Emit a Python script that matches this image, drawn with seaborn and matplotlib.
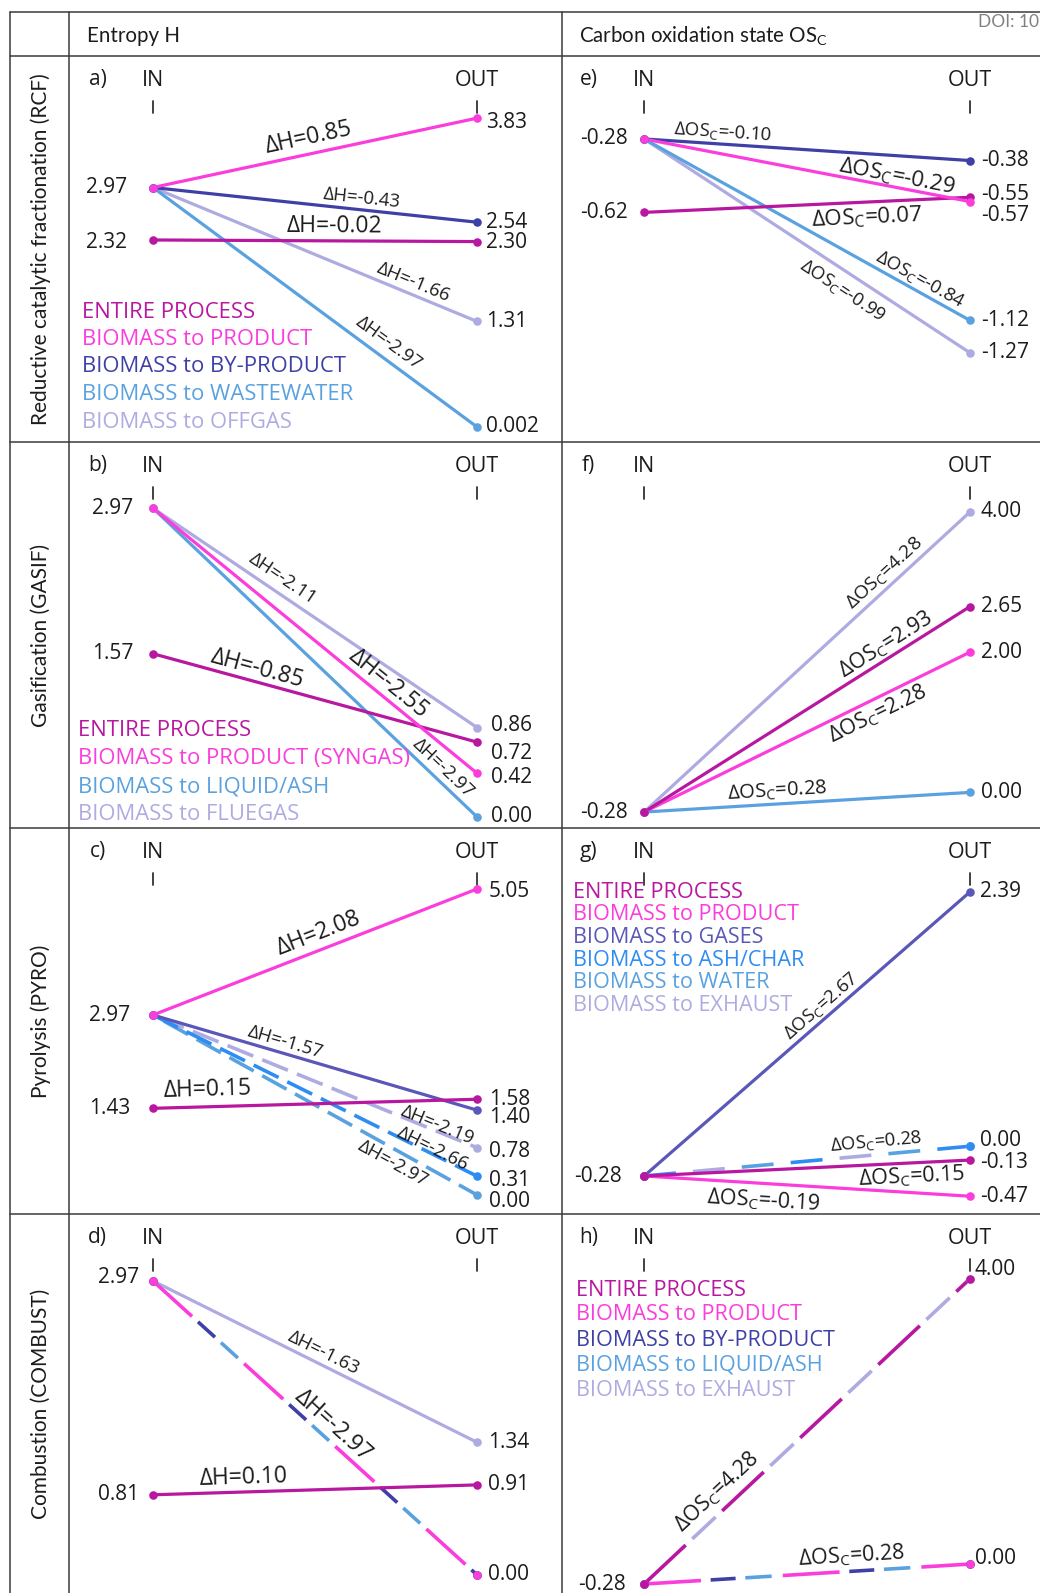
import numpy as np
import pandas as pd
import seaborn as sns
import matplotlib.pyplot as plt
import matplotlib.transforms as mtransforms
from matplotlib.lines import Line2D

sns.set_theme(style="white")
plt.rcParams['font.family'] = ['Open Sans', 'DejaVu Sans']
plt.rcParams['lines.scale_dashes'] = False

W, H, DPI = 1040, 1593, 100
INK = '#1c1c1c'

# ---------------- data ----------------
# a) RCF - entropy H
rcf_names = ['ENTIRE PROCESS', 'BIOMASS to PRODUCT', 'BIOMASS to BY-PRODUCT',
             'BIOMASS to WASTEWATER', 'BIOMASS to OFFGAS']
rcf_h_in = [2.32, 2.97, 2.97, 2.97, 2.97]
rcf_h_out = [2.30, 3.83, 2.54, 0.002, 1.31]
rcf_h_delta = ['-0.02', '0.85', '-0.43', '-2.97', '-1.66']

# e) RCF - carbon oxidation state
rcf_os_in = [-0.62, -0.28, -0.28, -0.28, -0.28]
rcf_os_out = [-0.55, -0.57, -0.38, -1.12, -1.27]
rcf_os_delta = ['0.07', '-0.29', '-0.10', '-0.84', '-0.99']

# b) gasification - entropy H
gasif_names = ['ENTIRE PROCESS', 'BIOMASS to PRODUCT (SYNGAS)',
               'BIOMASS to LIQUID/ASH', 'BIOMASS to FLUEGAS']
gasif_h_in = [1.57, 2.97, 2.97, 2.97]
gasif_h_out = [0.72, 0.42, 0.00, 0.86]
gasif_h_delta = ['-0.85', '-2.55', '-2.97', '-2.11']

# f) gasification - OSc
gasif_os_in = [-0.28, -0.28, -0.28, -0.28]
gasif_os_out = [2.65, 2.00, 0.00, 4.00]
gasif_os_delta = ['2.93', '2.28', '0.28', '4.28']

# c) pyrolysis - entropy H
pyro_names = ['ENTIRE PROCESS', 'BIOMASS to PRODUCT', 'BIOMASS to GASES',
              'BIOMASS to ASH/CHAR', 'BIOMASS to WATER', 'BIOMASS to EXHAUST']
pyro_h_in = [1.43, 2.97, 2.97, 2.97, 2.97, 2.97]
pyro_h_out = [1.58, 5.05, 1.40, 0.31, 0.00, 0.78]
pyro_h_delta = ['0.15', '2.08', '-1.57', '-2.66', '-2.97', '-2.19']

# g) pyrolysis - OSc
pyro_os_in = [-0.28, -0.28, -0.28, -0.28, -0.28, -0.28]
pyro_os_out = [-0.13, -0.47, 2.39, 0.00, 0.00, 0.00]
pyro_os_delta = ['0.15', '-0.19', '2.67', '0.28', '0.28', '0.28']

# d) combustion - entropy H
comb_names = ['ENTIRE PROCESS', 'BIOMASS to PRODUCT', 'BIOMASS to BY-PRODUCT',
              'BIOMASS to LIQUID/ASH', 'BIOMASS to EXHAUST']
comb_h_in = [0.81, 2.97, 2.97, 2.97, 2.97]
comb_h_out = [0.91, 0.00, 0.00, 0.00, 1.34]
comb_h_delta = ['0.10', '-2.97', '-2.97', '-2.97', '-1.63']

# h) combustion - OSc
comb_os_in = [-0.28, -0.28, -0.28, -0.28, -0.28]
comb_os_out = [4.00, 0.00, 0.00, 0.00, 4.00]
comb_os_delta = ['4.28', '0.28', '0.28', '0.28', '4.28']

row_titles = ['Reductive catalytic fractionation (RCF)', 'Gasification (GASIF)',
              'Pyrolysis (PYRO)', 'Combustion (COMBUST)']

# ---------------- colours ----------------
ENTIRE = '#b8189f'
PRODUCT = '#fb3ddc'
BYPROD = '#3f40a6'
GASES = '#5b57b8'
LIQUID = '#5aa2df'
ASH = '#2f8cf2'
GAS = '#aeabe2'

# ---------------- layout (pixels) ----------------
col_x = [10, 69, 562, 1040]
row_y = [12, 56, 442, 828, 1214, 1593]
col_xlim = [(-0.259, 1.262), (-0.252, 1.215)]
BIG, SMALL = 16.5, 13.3

# dash spec: (start, on, period) in points ; label spec: (t along line, perp offset px, fontsize)
panels = {
    'a': dict(col=0, row=0, ylim=(-0.184, 4.60), qty='H',
              names=rcf_names, vin=rcf_h_in, vout=rcf_h_out, delta=rcf_h_delta,
              colors=[ENTIRE, PRODUCT, BYPROD, LIQUID, GAS], order=[4, 3, 2, 0, 1],
              dashes=[None] * 5,
              labels=[(0.56, 15, BIG), (0.49, 16, BIG), (0.64, 12, SMALL), (0.70, 15, SMALL), (0.79, 12, SMALL)],
              legend=(13, 256, 27.5, 15.8), in_gap=26, out_gap=9,
              in_nudge={2.32: 3}, out_nudge={3.83: 4, 2.30: 1}),
    'b': dict(col=0, row=1, ylim=(-0.106, 3.606), qty='H',
              names=gasif_names, vin=gasif_h_in, vout=gasif_h_out, delta=gasif_h_delta,
              colors=[ENTIRE, PRODUCT, LIQUID, GAS], order=[3, 2, 0, 1],
              dashes=[None] * 4,
              labels=[(0.31, 13, BIG), (0.70, 13, BIG), (0.87, 12, SMALL), (0.375, 14, SMALL)],
              legend=(9, 288, 28.3, 15.8), in_gap=20, out_gap=14,
              in_nudge={}, out_nudge={0.72: 11, 0.86: -2, 0.42: 4}),
    'c': dict(col=0, row=2, ylim=(-0.314, 6.056), qty='H',
              names=pyro_names, vin=pyro_h_in, vout=pyro_h_out, delta=pyro_h_delta,
              colors=[ENTIRE, PRODUCT, GASES, ASH, LIQUID, GAS], order=[5, 4, 3, 2, 0, 1],
              dashes=[None, None, None, (0, 20, 27), (9, 20, 27), (4, 20, 27)],
              labels=[(0.17, 17, BIG), (0.53, 16, BIG), (0.40, 11, SMALL), (0.855, 5, SMALL),
                      (0.76, -13, SMALL), (0.87, 6, SMALL)],
              legend=None, in_gap=23, out_gap=12,
              in_nudge={}, out_nudge={1.40: 7, 5.05: 3, 0.78: 4, 0.31: 4, 0.00: 7}),
    'd': dict(col=0, row=3, ylim=(-0.182, 3.646), qty='H',
              names=comb_names, vin=comb_h_in, vout=comb_h_out, delta=comb_h_delta,
              colors=[ENTIRE, PRODUCT, BYPROD, LIQUID, GAS], order=[4, 3, 2, 0, 1],
              dashes=[None, (0, 38, 88.6), (43.8, 16.5, 88.6), (66.1, 16.5, 88.6), None],
              labels=[(0.28, 14, BIG), (0.526, 14, BIG), None, None, (0.51, 12, SMALL)],
              legend=None, in_gap=14, out_gap=11,
              in_nudge={2.97: -3}, out_nudge={}),
    'e': dict(col=1, row=0, ylim=(-1.683, 0.104), qty='OS',
              names=rcf_names, vin=rcf_os_in, vout=rcf_os_out, delta=rcf_os_delta,
              colors=[ENTIRE, PRODUCT, BYPROD, LIQUID, GAS], order=[4, 3, 2, 0, 1],
              dashes=[None] * 5,
              labels=[(0.68, -16, 16), (0.77, 11, 16), (0.24, 12, SMALL), (0.83, 12, SMALL), (0.64, -18, SMALL)],
              legend=None, in_gap=16, out_gap=11,
              in_nudge={}, out_nudge={-0.55: -3, -0.57: 14}),
    'f': dict(col=1, row=1, ylim=(-0.508, 4.998), qty='OS',
              names=gasif_names, vin=gasif_os_in, vout=gasif_os_out, delta=gasif_os_delta,
              colors=[ENTIRE, PRODUCT, LIQUID, GAS], order=[3, 2, 1, 0],
              dashes=[None] * 4,
              labels=[(0.764, 13, 15.5), (0.696, -15, 15.5), (0.41, 13, 14.5), (0.764, 12, 14)],
              legend=None, in_gap=16, out_gap=11,
              in_nudge={}, out_nudge={}),
    'g': dict(col=1, row=2, ylim=(-0.637, 2.991), qty='OS',
              names=pyro_names, vin=pyro_os_in, vout=pyro_os_out, delta=pyro_os_delta,
              colors=[ENTIRE, PRODUCT, GASES, ASH, LIQUID, GAS], order=[5, 4, 3, 1, 2, 0],
              dashes=[None, None, None, (0, 23, 106), (70.6, 23, 106), (35.3, 23, 106)],
              labels=[(0.82, -14, 15.5), (0.37, -17, 15.5), (0.567, 12, SMALL), (0.715, 13, SMALL), None, None],
              legend=(11, 64, 22.7, 15.6), in_gap=22, out_gap=10,
              in_nudge={}, out_nudge={0.00: -6, -0.13: 2}),
    'h': dict(col=1, row=3, ylim=(-0.406, 4.909), qty='OS',
              names=comb_names, vin=comb_os_in, vout=comb_os_out, delta=comb_os_delta,
              colors=[ENTIRE, PRODUCT, BYPROD, LIQUID, GAS], order=[4, 3, 2, 1, 0],
              dashes=[(0, 41, 77), (0, 41, 100), (48, 18, 100), (73, 19, 100), (47.5, 23, 77)],
              labels=[(0.26, 17, 15.5), (0.64, 15, 15.5), None, None, None],
              legend=(14, 76, 25, 15.6), in_gap=18, out_gap=5,
              in_nudge={}, out_nudge={4.00: -9, 0.00: -6}),
}


def fmt(v):
    return f"{v:.3f}" if 0 < abs(v) < 0.01 else f"{v:.2f}"


def delta_text(qty, val):
    if qty == 'H':
        return 'ΔH=' + val
    return 'ΔOS$_{\\mathregular{C}}$=' + val


fig = plt.figure(figsize=(W / DPI, H / DPI), dpi=DPI)

for key, p in panels.items():
    x0, x1 = col_x[p['col'] + 1], col_x[p['col'] + 2]
    y0, y1 = row_y[p['row'] + 1], row_y[p['row'] + 2]
    cw, ch = x1 - x0, y1 - y0
    ax = fig.add_axes([x0 / W, 1 - y1 / H, cw / W, ch / H])
    ax.set_xlim(col_xlim[p['col']])
    ax.set_ylim(p['ylim'])
    ax.axis('off')

    # lines
    for i in p['order']:
        df = pd.DataFrame({'stage': [0, 1], 'value': [p['vin'][i], p['vout'][i]]})
        d = p['dashes'][i]
        sns.lineplot(data=df, x='stage', y='value', ax=ax, color=p['colors'][i],
                     linewidth=2.6 if d else 2.3, legend=False)
        if d:
            start, on, period = d
            ax.lines[-1].set_linestyle(((period - start) % period, (on, period - on)))
    # end dots
    for i in p['order']:
        sns.scatterplot(x=[0, 1], y=[p['vin'][i], p['vout'][i]], ax=ax, color=p['colors'][i],
                        s=38, linewidth=0, zorder=4, legend=False)

    # delta labels along the lines
    for i, lab in enumerate(p['labels']):
        if lab is None:
            continue
        t, off, fs = lab
        a, b = p['vin'][i], p['vout'][i]
        p0 = ax.transData.transform((0, a))
        p1 = ax.transData.transform((1, b))
        dv = p1 - p0
        ang = np.degrees(np.arctan2(dv[1], dv[0]))
        n = np.array([-dv[1], dv[0]]) / np.hypot(dv[0], dv[1])
        ax.annotate(delta_text(p['qty'], p['delta'][i]), (t, a + t * (b - a)),
                    xytext=(n[0] * off, n[1] * off), textcoords='offset pixels',
                    rotation=ang, rotation_mode='anchor', ha='center', va='center',
                    fontsize=fs, color=INK, zorder=5)

    # value labels
    for v in sorted(set(p['vin'])):
        ax.annotate(fmt(v), (0, v), xytext=(-p['in_gap'], -p['in_nudge'].get(v, 0)),
                    textcoords='offset pixels', ha='right', va='center', fontsize=15, color=INK)
    for v in sorted(set(p['vout'])):
        ax.annotate(fmt(v), (1, v), xytext=(p['out_gap'], -p['out_nudge'].get(v, 0)),
                    textcoords='offset pixels', ha='left', va='center', fontsize=15, color=INK)

    # IN / OUT header with ticks
    bt = mtransforms.blended_transform_factory(ax.transData, ax.transAxes)
    fy = lambda dpx: 1 - dpx / ch
    ax.text(0, fy(24), 'IN', transform=bt, ha='center', va='center', fontsize=15.5, color=INK)
    ax.text(1, fy(24), 'OUT', transform=bt, ha='center', va='center', fontsize=15.5, color=INK)
    ax.text(-0.17, fy(24), key + ')', transform=bt, ha='center', va='center', fontsize=15, color=INK)
    for xx in (0, 1):
        ax.plot([xx, xx], [fy(45), fy(57)], transform=bt, color='#333333', lw=1.3)

    # coloured legend text
    if p['legend']:
        dx, dy, step, fs = p['legend']
        for k, (name, c) in enumerate(zip(p['names'], p['colors'])):
            ax.text(dx / cw, fy(dy + k * step), name, transform=ax.transAxes, color=c,
                    fontsize=fs, ha='left', va='center')


# table grid
def fig_line(xa, ya, xb, yb):
    fig.add_artist(Line2D([xa / W, xb / W], [1 - ya / H, 1 - yb / H], transform=fig.transFigure,
                          color='#3a3a3a', lw=1.1))


for y in row_y[:-1]:
    fig_line(col_x[0], y, W, y)
for x in col_x[:-1]:
    fig_line(x, row_y[0], x, H)

# headers
fig.text(87 / W, 1 - 36 / H, 'Entropy H', family=['Lato', 'DejaVu Sans'], fontsize=14.8,
         ha='left', va='center', color=INK)
fig.text(579 / W, 1 - 36 / H, 'Carbon oxidation state OS$_{\\mathregular{C}}$', family=['Lato', 'DejaVu Sans'],
         fontsize=14.8, ha='left', va='center', color=INK)
fig.text(978 / W, 1 - 22 / H, 'DOI: 10', family=['Lato', 'DejaVu Sans'], fontsize=12.5,
         ha='left', va='center', color='#808080')
for r, title in enumerate(row_titles):
    yc = (row_y[r + 1] + row_y[r + 2]) / 2
    fig.text(41 / W, 1 - yc / H, title, family=['Lato', 'DejaVu Sans'], fontsize=15,
             rotation=90, ha='center', va='center', color=INK)

fig.savefig('out.png', dpi=DPI)
